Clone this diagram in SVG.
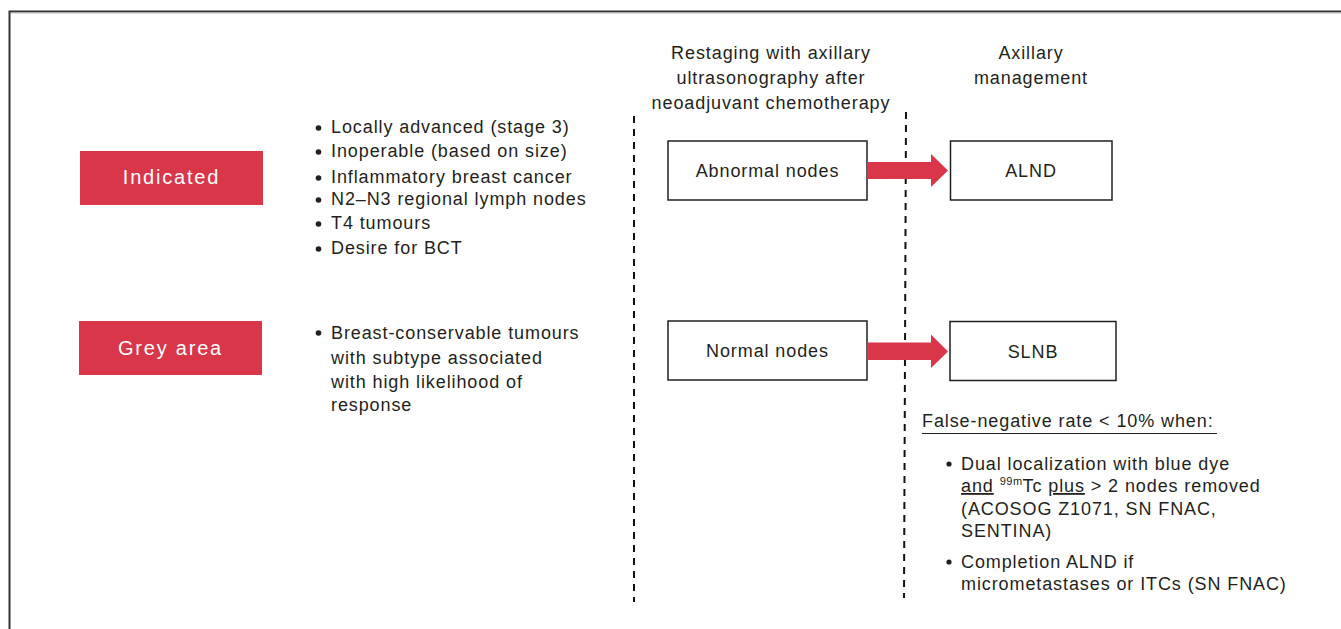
<svg xmlns="http://www.w3.org/2000/svg" width="1341" height="629" viewBox="0 0 1341 629">
  <style>
    text { font-family: "Liberation Sans", Arial, sans-serif; font-size: 18px; fill: #231f20; letter-spacing: 0.9px; }
    .lbl { fill: #ffffff; font-size: 20px; letter-spacing: 1.8px; text-anchor: middle; }
    .mid { text-anchor: middle; }
    .tag { fill: #d9364a; }
    .box { fill: #ffffff; stroke: #231f20; stroke-width: 1.5; }
    .div { stroke: #111; stroke-width: 2; stroke-dasharray: 7 6; fill: none; }
    .arrow { fill: #d9364a; }
    .dot { fill: #231f20; }
  </style>

  <!-- outer frame (open to the right and bottom) -->
  <path d="M9.5 629 V11.5 H1341" fill="none" stroke="#333" stroke-width="2"/>
  <line x1="11" y1="13" x2="1341" y2="13" stroke="#bbb" stroke-width="1"/>

  <!-- column headings -->
  <g id="head-restaging">
    <text class="mid" x="771" y="59">Restaging with axillary</text>
    <text class="mid" x="771" y="84">ultrasonography after</text>
    <text class="mid" x="771" y="108.5">neoadjuvant chemotherapy</text>
  </g>
  <g id="head-management">
    <text class="mid" x="1031" y="59">Axillary</text>
    <text class="mid" x="1031" y="84">management</text>
  </g>

  <!-- column dividers -->
  <g id="dividers">
    <line class="div" x1="634" y1="116" x2="634" y2="602"/>
    <line class="div" x1="906" y1="112" x2="904" y2="598"/>
  </g>

  <!-- category tags -->
  <g id="tag-indicated">
    <rect class="tag" x="80" y="151" width="183" height="54"/>
    <text class="lbl" x="171.5" y="184">Indicated</text>
  </g>
  <g id="tag-grey">
    <rect class="tag" x="79" y="321" width="183" height="54"/>
    <text class="lbl" x="170.5" y="355">Grey area</text>
  </g>

  <!-- criteria lists -->
  <g id="list-indicated">
    <circle class="dot" cx="318.5" cy="128" r="2.8"/>
    <text x="331" y="133">Locally advanced (stage 3)</text>
    <circle class="dot" cx="318.5" cy="152" r="2.8"/>
    <text x="331" y="157">Inoperable (based on size)</text>
    <circle class="dot" cx="318.5" cy="178" r="2.8"/>
    <text x="331" y="183">Inflammatory breast cancer</text>
    <circle class="dot" cx="318.5" cy="200" r="2.8"/>
    <text x="331" y="205">N2–N3 regional lymph nodes</text>
    <circle class="dot" cx="318.5" cy="224" r="2.8"/>
    <text x="331" y="229">T4 tumours</text>
    <circle class="dot" cx="318.5" cy="249" r="2.8"/>
    <text x="331" y="254">Desire for BCT</text>
  </g>
  <g id="list-grey">
    <circle class="dot" cx="318.5" cy="333" r="2.8"/>
    <text x="331" y="338.5">Breast-conservable tumours</text>
    <text x="331" y="364">with subtype associated</text>
    <text x="331" y="388">with high likelihood of</text>
    <text x="331" y="410.5">response</text>
  </g>

  <!-- restaging outcomes -->
  <g id="node-abnormal">
    <rect class="box" x="668" y="141" width="199" height="59"/>
    <text class="mid" x="767.5" y="176.5">Abnormal nodes</text>
  </g>
  <g id="node-normal">
    <rect class="box" x="668" y="321" width="199" height="59"/>
    <text class="mid" x="767.5" y="357">Normal nodes</text>
  </g>

  <!-- management options -->
  <g id="node-alnd">
    <rect class="box" x="950.5" y="141" width="161.5" height="59"/>
    <text class="mid" x="1031" y="176.5">ALND</text>
  </g>
  <g id="node-slnb">
    <rect class="box" x="950" y="321.5" width="166" height="59"/>
    <text class="mid" x="1033" y="358">SLNB</text>
  </g>

  <!-- block arrows -->
  <g id="connectors">
    <polygon class="arrow" points="867,162 931,162 931,154 948,170.5 931,187 931,179 867,179"/>
    <polygon class="arrow" points="867,342.5 931,342.5 931,334.5 948,351.5 931,368 931,360 867,360"/>
  </g>

  <!-- SLNB conditions note -->
  <g id="note-fnr">
    <text x="922" y="427">False-negative rate &lt; 10% when:</text>
    <line x1="922" y1="433.5" x2="1217" y2="433.5" stroke="#231f20" stroke-width="1.2"/>
    <circle class="dot" cx="949" cy="464" r="2.6"/>
    <text x="961" y="469.5">Dual localization with blue dye</text>
    <text x="961" y="492"><tspan text-decoration="underline">and</tspan> <tspan font-size="11" dy="-7" letter-spacing="0.5">99m</tspan><tspan dy="7">Tc </tspan><tspan text-decoration="underline">plus</tspan> &gt; 2 nodes removed</text>
    <text x="961" y="514.5">(ACOSOG Z1071, SN FNAC,</text>
    <text x="961" y="537">SENTINA)</text>
    <circle class="dot" cx="949" cy="562" r="2.6"/>
    <text x="961" y="567.5">Completion ALND if</text>
    <text x="961" y="589.5">micrometastases or ITCs (SN FNAC)</text>
  </g>
</svg>
